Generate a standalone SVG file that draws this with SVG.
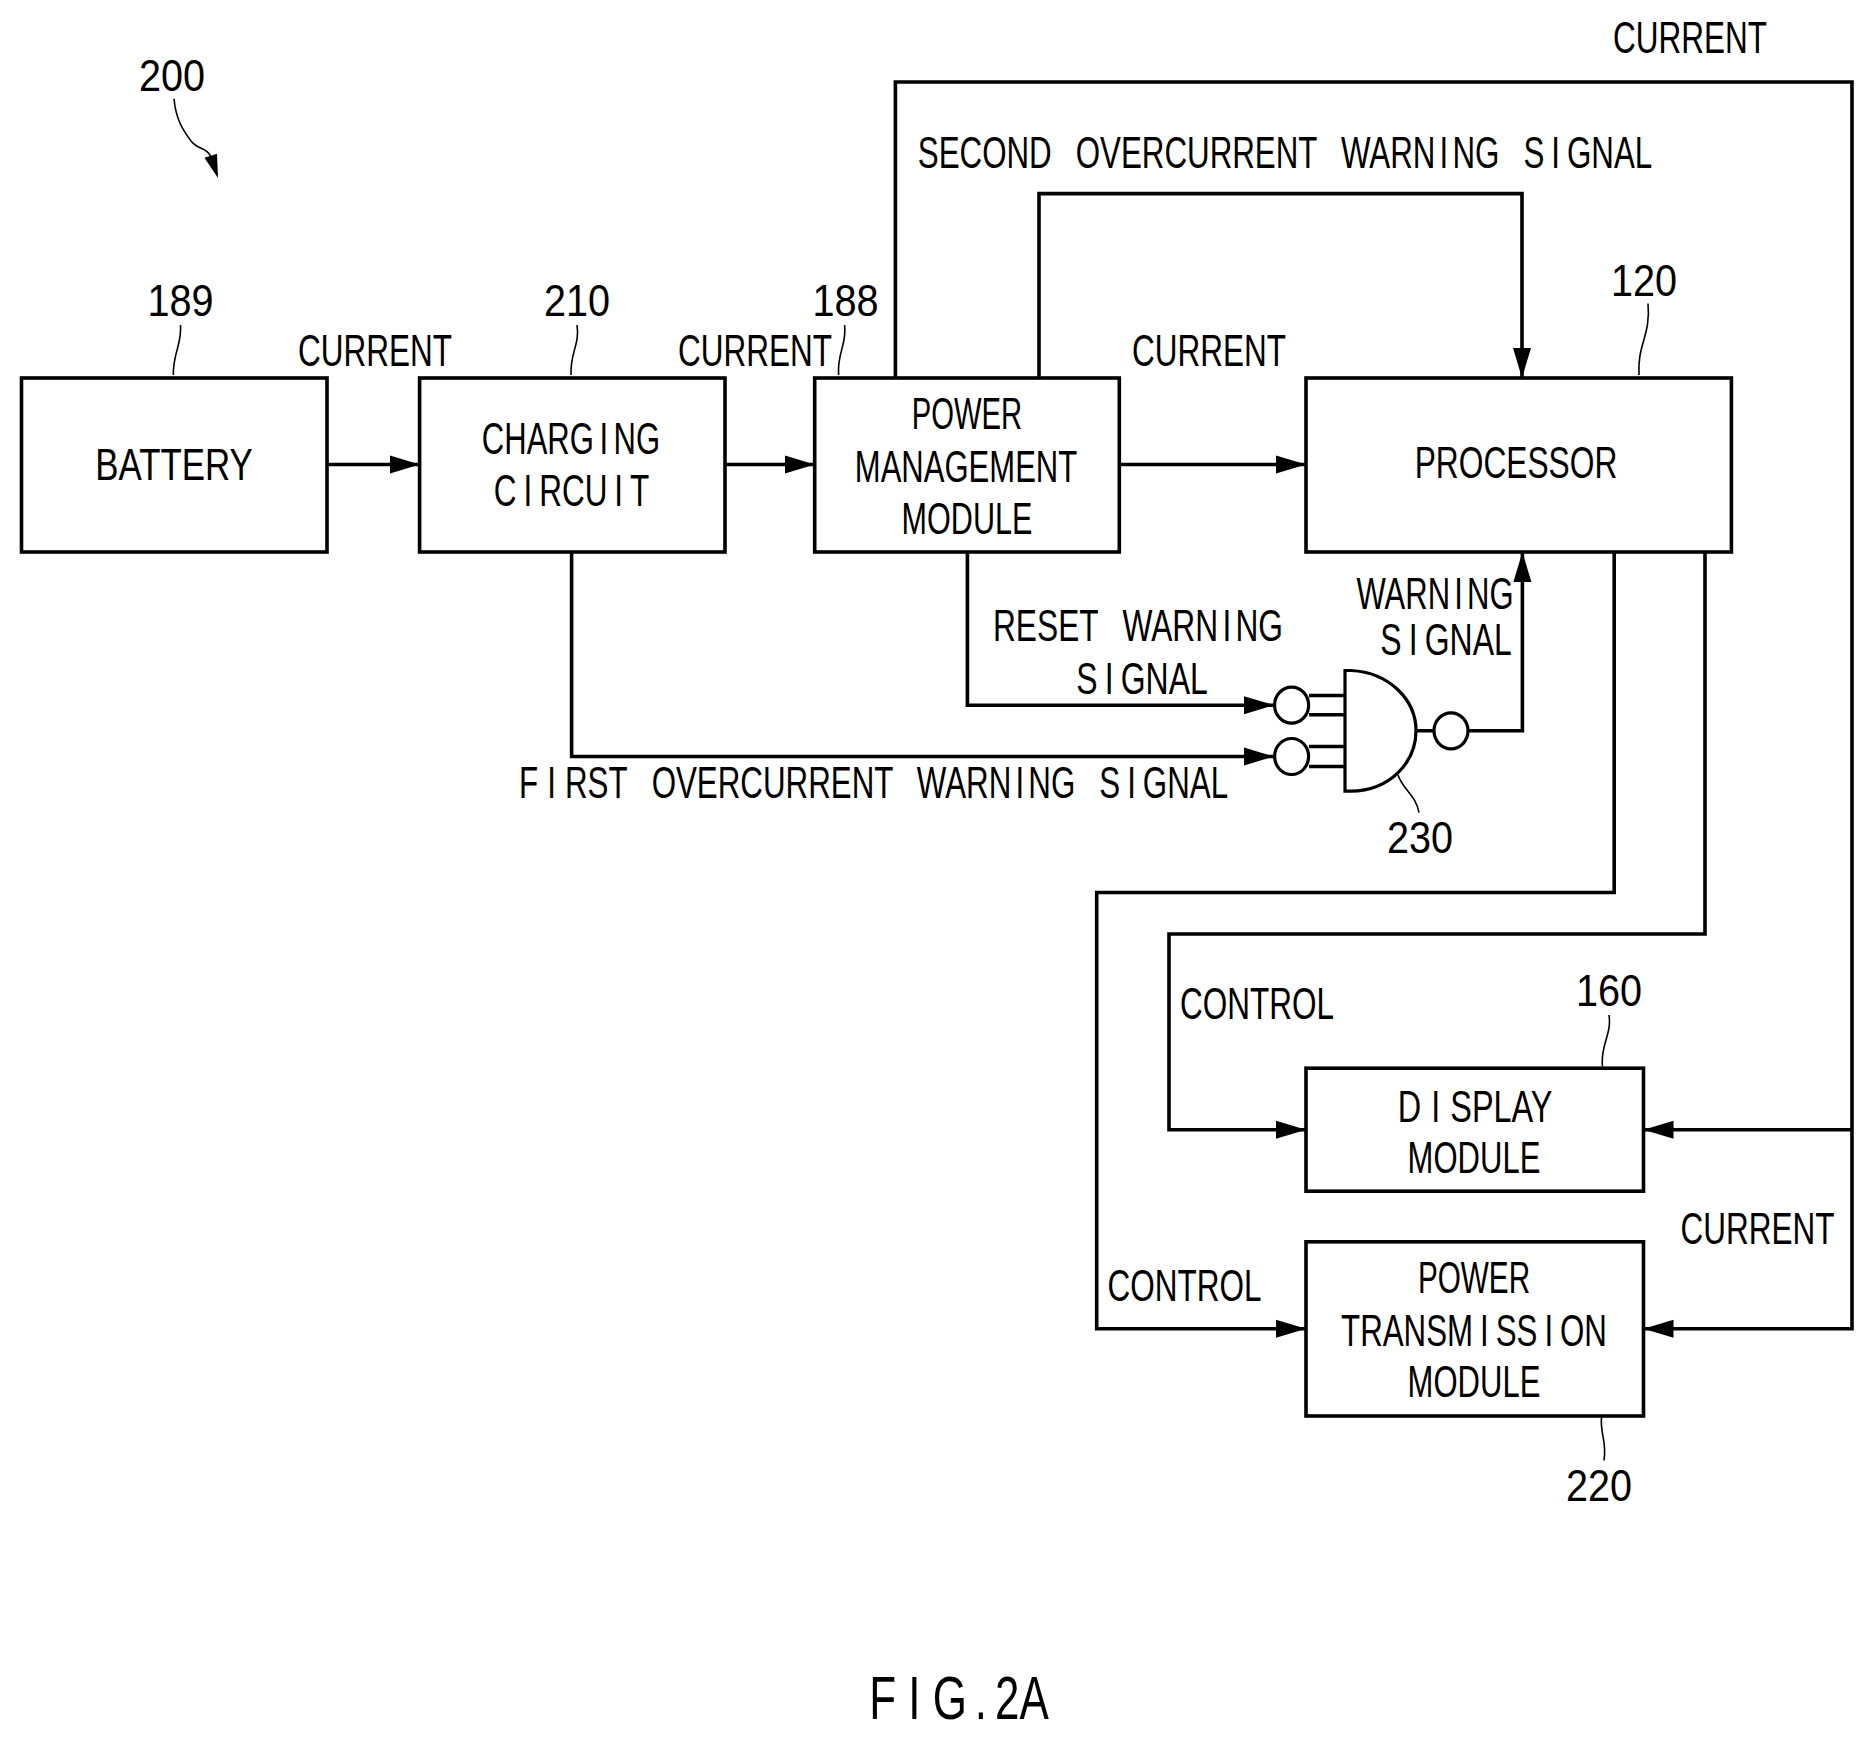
<svg xmlns="http://www.w3.org/2000/svg" width="1874" height="1741" viewBox="0 0 1874 1741">
<style>
.bg{fill:#fff}
.box{fill:none;stroke:#000;stroke-width:3.6}
.wire{fill:none;stroke:#000;stroke-width:3.6;stroke-linejoin:miter}
.thin{fill:none;stroke:#000;stroke-width:1.6}
.gate{fill:#fff;stroke:#000;stroke-width:3.2}
text{font-family:"Liberation Sans",Arial,sans-serif;font-size:45px;fill:#000;text-anchor:middle;word-spacing:22px}
.n{font-size:44px}
.f{font-size:61px}
</style>
<defs>
<marker id="arrow" markerUnits="userSpaceOnUse" markerWidth="31" markerHeight="20" refX="30" refY="10" orient="auto"><path d="M0 1L30 10L0 19Z" fill="#000"/></marker>
</defs>
<rect class="bg" width="1874" height="1741"/>
<g id="connectors">
<path class="wire" d="M327 464.500H419.600" marker-end="url(#arrow)"/>
<path class="wire" d="M725 464.500H814.700" marker-end="url(#arrow)"/>
<path class="wire" d="M1119.300 464.500H1306" marker-end="url(#arrow)"/>
<path class="wire" d="M895.400 378V82H1852V1328.700H1643.500" marker-end="url(#arrow)"/>
<path class="wire" d="M1852 1129.700H1643.500" marker-end="url(#arrow)"/>
<path class="wire" d="M1039 378V193.600H1522V378" marker-end="url(#arrow)"/>
<path class="wire" d="M967.400 552V705.200H1274" marker-end="url(#arrow)"/>
<path class="wire" d="M571.600 552V756.500H1274" marker-end="url(#arrow)"/>
<path class="wire" d="M1468 730.800H1522.400V552" marker-end="url(#arrow)"/>
<path class="wire" d="M1614.200 552V892.500H1096.700V1328.700H1306" marker-end="url(#arrow)"/>
<path class="wire" d="M1705 552V934H1169V1129.700H1306" marker-end="url(#arrow)"/>
</g>
<g id="label-current">
<text transform="translate(375 365.500) scale(.7 1)">CURRENT</text>
<text transform="translate(755 365.500) scale(.7 1)">CURRENT</text>
<text transform="translate(1209 365.500) scale(.7 1)">CURRENT</text>
<text transform="translate(1690 52.800) scale(.7 1)">CURRENT</text>
<text transform="translate(1757.500 1243.500) scale(.7 1)">CURRENT</text>
</g>
<g id="label-signals">
<text transform="translate(1285 167.600) scale(.696 1)">SECOND OVERCURRENT WARN<tspan dx="6">I</tspan><tspan dx="6">NG</tspan> S<tspan dx="10">I</tspan><tspan dx="10">GNAL</tspan></text>
<text transform="translate(1138 640.700) scale(.705 1)">RESET WARN<tspan dx="6">I</tspan><tspan dx="6">NG</tspan></text>
<text transform="translate(1142 694) scale(.71 1)">S<tspan dx="10">I</tspan><tspan dx="10">GNAL</tspan></text>
<text transform="translate(1435 609) scale(.69 1)">WARN<tspan dx="6">I</tspan><tspan dx="6">NG</tspan></text>
<text transform="translate(1446 655) scale(.71 1)">S<tspan dx="10">I</tspan><tspan dx="10">GNAL</tspan></text>
<text transform="translate(873.600 797.700) scale(.696 1)">F<tspan dx="13">I</tspan><tspan dx="13">RST</tspan> OVERCURRENT WARN<tspan dx="6">I</tspan><tspan dx="6">NG</tspan> S<tspan dx="10">I</tspan><tspan dx="10">GNAL</tspan></text>
<text transform="translate(1257 1018.500) scale(.7 1)">CONTROL</text>
<text transform="translate(1184.500 1300.500) scale(.7 1)">CONTROL</text>
</g>
<g id="ref-200">
<text class="n" transform="translate(172 91) scale(.9 1)">200</text>
<path class="thin" d="M174 98.700C176 120 183 130 191 141C198 150 206 147 210.500 156"/>
<path d="M204.400 157.700L217 153.800L218 178Z" fill="#000"/>
</g>
<g id="battery">
<rect class="box" x="21.500" y="378" width="305.500" height="174"/>
<text transform="translate(174 479.500) scale(.775 1)">BATTERY</text>
<text class="n" transform="translate(180.500 315.700) scale(.9 1)">189</text>
<path class="thin" d="M180.500 325C182 345 173 352 173.300 375"/>
</g>
<g id="charging-circuit">
<rect class="box" x="419.600" y="378" width="305.400" height="174"/>
<text transform="translate(571 454) scale(.69 1)">CHARG<tspan dx="8">I</tspan><tspan dx="8">NG</tspan></text>
<text transform="translate(571.500 506) scale(.7 1)">C<tspan dx="10">I</tspan><tspan dx="10">RCU</tspan><tspan dx="10">I</tspan><tspan dx="10">T</tspan></text>
<text class="n" transform="translate(577 316) scale(.9 1)">210</text>
<path class="thin" d="M577 325C580 345 570 352 571 375"/>
</g>
<g id="power-management-module">
<rect class="box" x="814.700" y="378" width="304.600" height="174"/>
<text transform="translate(967 428.600) scale(.65 1)">POWER</text>
<text transform="translate(966 482) scale(.69 1)">MANAGEMENT</text>
<text transform="translate(967 534) scale(.68 1)">MODULE</text>
<text class="n" transform="translate(845.500 316) scale(.9 1)">188</text>
<path class="thin" d="M844.600 325C847 345 837 352 838.600 375"/>
</g>
<g id="processor">
<rect class="box" x="1306" y="378" width="425.400" height="174"/>
<text transform="translate(1516 477.600) scale(.705 1)">PROCESSOR</text>
<text class="n" transform="translate(1644 295.500) scale(.9 1)">120</text>
<path class="thin" d="M1648 303.500C1651 335 1637 345 1639 375"/>
</g>
<g id="display-module">
<rect class="box" x="1306" y="1068.200" width="337.500" height="123"/>
<text transform="translate(1475 1121.600) scale(.72 1)">D<tspan dx="14">I</tspan><tspan dx="14">SPLAY</tspan></text>
<text transform="translate(1474 1173.300) scale(.69 1)">MODULE</text>
<text class="n" transform="translate(1609 1005.800) scale(.9 1)">160</text>
<path class="thin" d="M1609 1015C1612 1035 1600 1045 1602.500 1066.500"/>
</g>
<g id="power-transmission-module">
<rect class="box" x="1306" y="1241.800" width="337.500" height="174.200"/>
<text transform="translate(1474 1293.300) scale(.66 1)">POWER</text>
<text transform="translate(1474 1345.500) scale(.695 1)">TRANSM<tspan dx="10">I</tspan><tspan dx="10">SS</tspan><tspan dx="10">I</tspan><tspan dx="10">ON</tspan></text>
<text transform="translate(1474 1397) scale(.69 1)">MODULE</text>
<text class="n" transform="translate(1599 1501.200) scale(.9 1)">220</text>
<path class="thin" d="M1601.500 1417.500C1600 1435 1607 1440 1604 1460.500"/>
</g>
<g id="gate-230">
<path class="wire" d="M1309 695.500H1345M1309 714.800H1345M1309 746.500H1345M1309 766.500H1345M1416 730.800H1434"/>
<path class="gate" d="M1345 670.500H1351C1390 672.500 1416 700.500 1416 730.500C1416 762.500 1390 790.500 1351 791.200H1345Z"/>
<ellipse class="gate" cx="1291.600" cy="705.200" rx="17" ry="18"/>
<ellipse class="gate" cx="1291.600" cy="756.500" rx="17" ry="18"/>
<ellipse class="gate" cx="1451" cy="730.800" rx="17" ry="18"/>
<path class="thin" d="M1398 775C1403 790 1416 795 1419 812.700"/>
<text class="n" transform="translate(1420 852.700) scale(.9 1)">230</text>
</g>
<text class="f" transform="translate(959 1719) scale(.72 1)">F<tspan dx="17">I</tspan><tspan dx="17">G</tspan><tspan dx="11">.</tspan><tspan dx="11">2A</tspan></text>
</svg>
